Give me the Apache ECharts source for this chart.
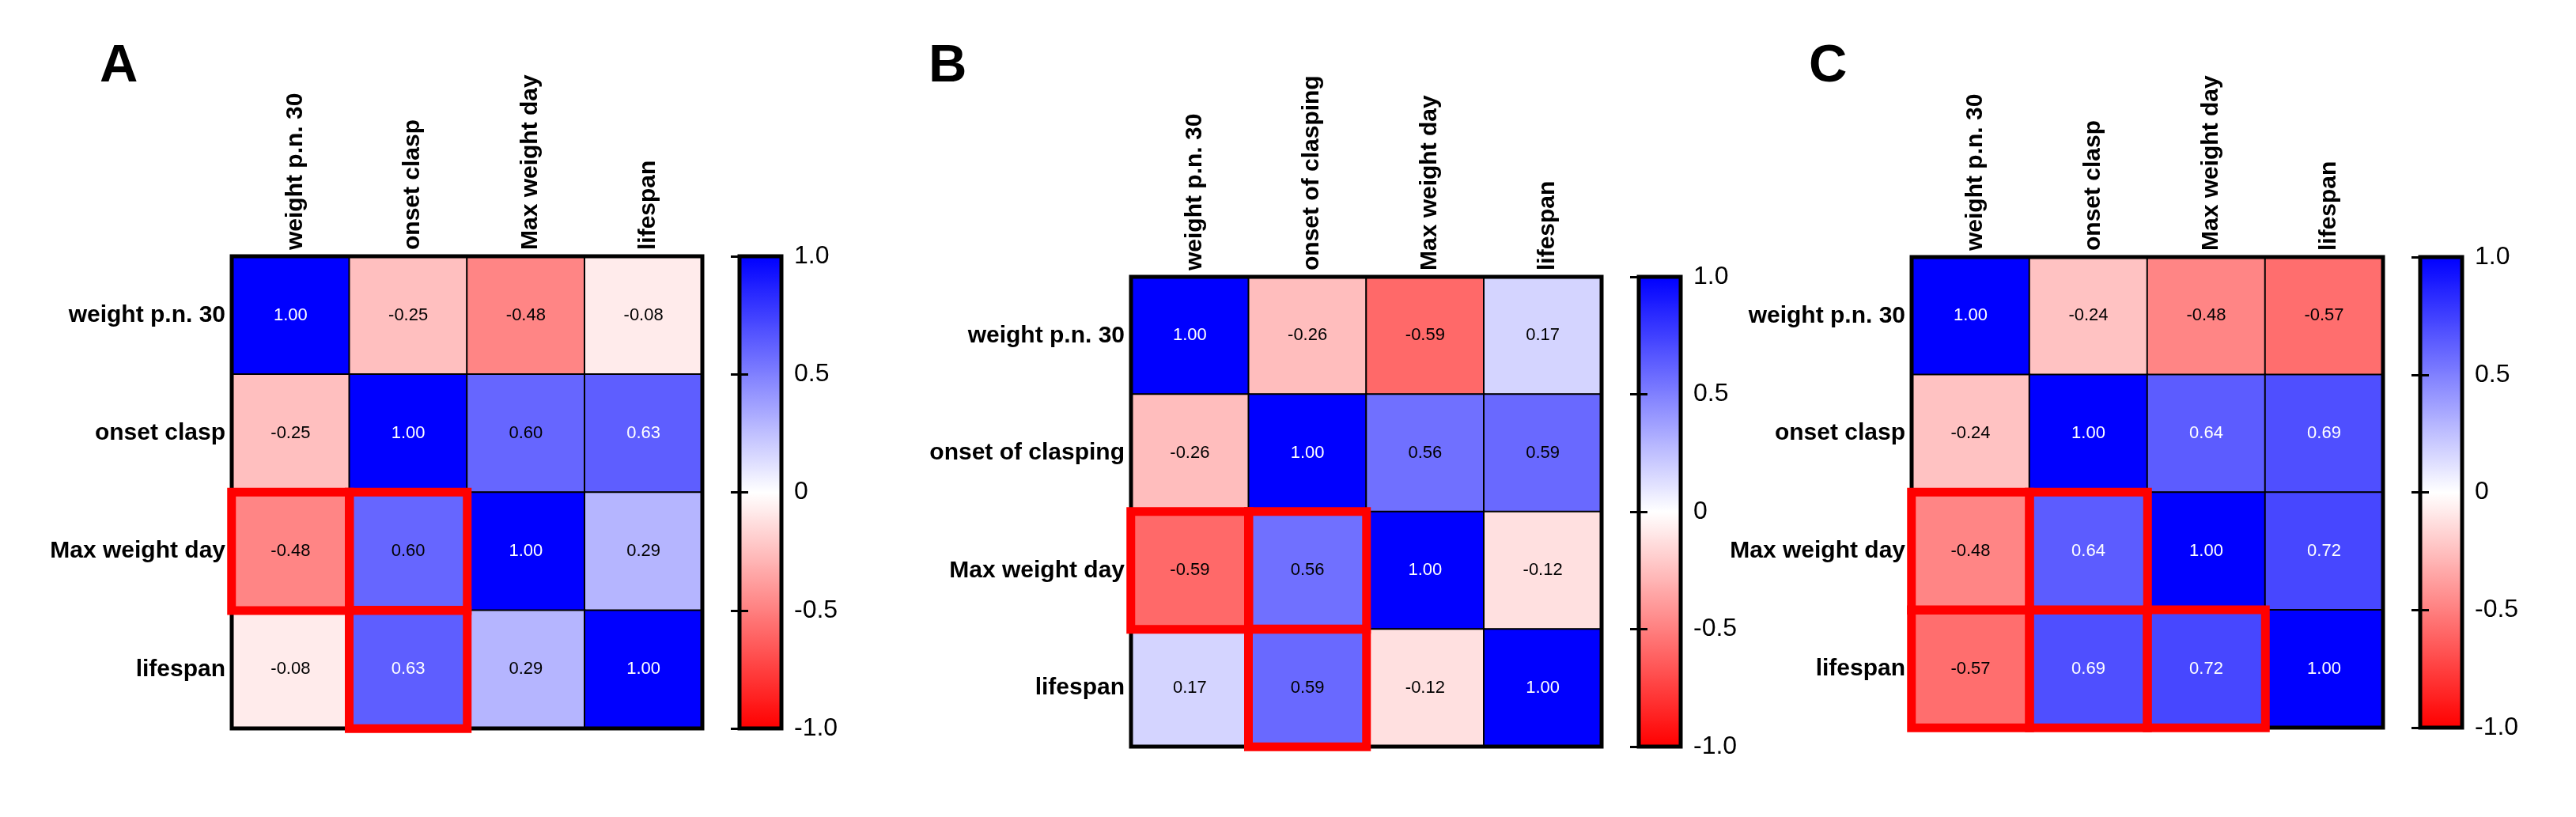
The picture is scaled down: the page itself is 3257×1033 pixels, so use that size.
<!DOCTYPE html>
<html>
<head>
<meta charset="utf-8">
<title>correlation matrices</title>
<script src="https://cdn.jsdelivr.net/npm/echarts@6/dist/echarts.min.js"></script>
<style>
html, body { margin: 0; padding: 0; background: #fff; }
#main { width: 3257px; height: 1033px; }
</style>
</head>
<body>
<div id="main"></div>
<script>
// variable names per panel
var labelsA = ['weight p.n. 30', 'onset clasp', 'Max weight day', 'lifespan'];
var labelsB = ['weight p.n. 30', 'onset of clasping', 'Max weight day', 'lifespan'];
var labelsC = ['weight p.n. 30', 'onset clasp', 'Max weight day', 'lifespan'];

// correlation matrices (row by row)
var corrA = [
  [1.00, -0.25, -0.48, -0.08],
  [-0.25, 1.00, 0.60, 0.63],
  [-0.48, 0.60, 1.00, 0.29],
  [-0.08, 0.63, 0.29, 1.00]
];
var corrB = [
  [1.00, -0.26, -0.59, 0.17],
  [-0.26, 1.00, 0.56, 0.59],
  [-0.59, 0.56, 1.00, -0.12],
  [0.17, 0.59, -0.12, 1.00]
];
var corrC = [
  [1.00, -0.24, -0.48, -0.57],
  [-0.24, 1.00, 0.64, 0.69],
  [-0.48, 0.64, 1.00, 0.72],
  [-0.57, 0.69, 0.72, 1.00]
];

// highlighted cells [row, col]
var boxesA = [[2, 0], [2, 1], [3, 1]];
var boxesB = [[2, 0], [2, 1], [3, 1]];
var boxesC = [[2, 0], [2, 1], [3, 0], [3, 1], [3, 2]];

// colour bar ticks
var barTicks = [-1, -0.5, 0, 0.5, 1];

var panelData = [
  { letter: 'A', labels: labelsA, corr: corrA, boxes: boxesA },
  { letter: 'B', labels: labelsB, corr: corrB, boxes: boxesB },
  { letter: 'C', labels: labelsC, corr: corrC, boxes: boxesC }
];

// layout in px
var layout = [
  { left: 293, top: 324, w: 595, h: 597, barLeft: 935, letterX: 126 },
  { left: 1430, top: 350, w: 595, h: 594, barLeft: 2072, letterX: 1174 },
  { left: 2417, top: 325, w: 596, h: 595, barLeft: 3060, letterX: 2287 }
];

var font = 'Arial, "Liberation Sans", sans-serif';
var grid = [], xAxis = [], yAxis = [], series = [], visualMap = [], graphic = [];

layout.forEach(function (p, i) {
  var d = panelData[i];
  var g = grid.length, xi = xAxis.length, yi = yAxis.length;

  grid.push({
    left: p.left, top: p.top, width: p.w, height: p.h,
    show: true, borderColor: '#000', borderWidth: 5,
    backgroundColor: 'transparent', z: 3
  });
  xAxis.push({
    type: 'category', gridIndex: g, position: 'top', data: d.labels,
    axisLine: { show: false }, axisTick: { show: false }, splitLine: { show: false },
    axisLabel: {
      rotate: -90, margin: 8, interval: 0, verticalAlign: 'top', lineHeight: 12,
      fontSize: 30, fontWeight: 'bold', color: '#000', fontFamily: font
    }
  });
  yAxis.push({
    type: 'category', gridIndex: g, inverse: true, data: d.labels,
    axisLine: { show: false }, axisTick: { show: false }, splitLine: { show: false },
    axisLabel: { margin: 8, interval: 0, fontSize: 30, fontWeight: 'bold', color: '#000', fontFamily: font }
  });

  var cells = [];
  d.corr.forEach(function (row, r) {
    row.forEach(function (v, c) {
      cells.push({ value: [c, r, v], label: { color: v > 0.61 ? '#fff' : '#000' } });
    });
  });

  var si = series.length;
  series.push({
    type: 'heatmap', xAxisIndex: xi, yAxisIndex: yi, data: cells, z: 2,
    itemStyle: { borderColor: '#000', borderWidth: 2 },
    label: {
      show: true, fontSize: 22, fontFamily: font,
      formatter: function (q) { return q.value[2].toFixed(2); }
    },
    emphasis: { disabled: true }
  });
  // red frames
  series.push({
    type: 'heatmap', xAxisIndex: xi, yAxisIndex: yi, z: 5, silent: true,
    data: d.boxes.map(function (b) { return [b[1], b[0], d.corr[b[0]][b[1]]]; }),
    itemStyle: { color: 'rgba(0,0,0,0)', borderColor: '#ff0000', borderWidth: 11 },
    label: { show: false },
    emphasis: { disabled: true }
  });

  visualMap.push({
    type: 'continuous', seriesIndex: si, min: -1, max: 1,
    calculable: false, hoverLink: false, padding: 0,
    left: p.barLeft, top: p.top, itemWidth: 53, itemHeight: p.h,
    text: null, showLabel: false,
    inRange: { color: ['#ff0000', '#ffffff', '#0000ff'] }
  });

  // colour bar frame, ticks and labels
  var cg = grid.length;
  grid.push({
    left: p.barLeft, top: p.top, width: 53, height: p.h,
    show: true, borderColor: '#000', borderWidth: 5,
    backgroundColor: 'transparent', z: 10
  });
  xAxis.push({ type: 'value', gridIndex: cg, show: false });
  var tickCfg = { show: true, inside: true, length: 11, lineStyle: { color: '#000', width: 3 } };
  yAxis.push({
    type: 'value', gridIndex: cg, position: 'right', z: 11,
    min: barTicks[0], max: barTicks[barTicks.length - 1], interval: barTicks[1] - barTicks[0],
    axisLine: { show: false }, splitLine: { show: false }, axisTick: tickCfg,
    axisLabel: {
      show: true, margin: 16, fontSize: 32, color: '#000', fontFamily: font,
      showMinLabel: true, showMaxLabel: true,
      formatter: function (v) { return v === 0 ? '0' : v.toFixed(1); }
    }
  });
  yAxis.push({
    type: 'value', gridIndex: cg, position: 'left', z: 11,
    min: barTicks[0], max: barTicks[barTicks.length - 1], interval: barTicks[1] - barTicks[0],
    axisLine: { show: false }, splitLine: { show: false }, axisTick: tickCfg,
    axisLabel: { show: false }
  });

  graphic.push({
    type: 'text', x: p.letterX, y: 85, z: 20,
    style: { text: d.letter, font: 'bold 67px ' + font, fill: '#000', textVerticalAlign: 'middle' }
  });
});

var chart = echarts.init(document.getElementById('main'));
chart.setOption({
  animation: false,
  backgroundColor: '#fff',
  textStyle: { fontFamily: font },
  grid: grid,
  xAxis: xAxis,
  yAxis: yAxis,
  visualMap: visualMap,
  series: series,
  graphic: graphic
});
</script>
</body>
</html>
